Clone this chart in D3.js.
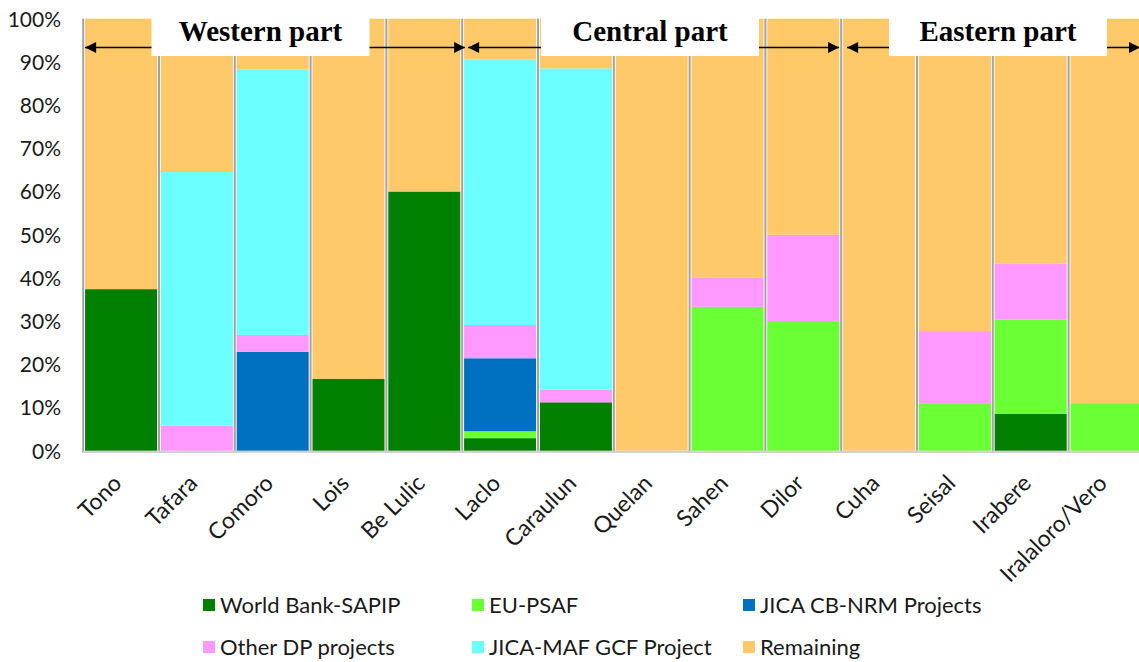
<!DOCTYPE html>
<html>
<head>
<meta charset="utf-8">
<script src="https://cdn.jsdelivr.net/npm/d3@7"></script>
<style>
  html, body { margin: 0; padding: 0; background: #ffffff; }
  svg { display: block; }
</style>
</head>
<body>
<svg id="chart" width="1139" height="662"></svg>
<script>
// ---- data ----
const categories = ["Tono", "Tafara", "Comoro", "Lois", "Be Lulic", "Laclo", "Caraulun",
  "Quelan", "Sahen", "Dilor", "Cuha", "Seisal", "Irabere", "Iralaloro/Vero"];
const seriesNames = ["World Bank-SAPIP", "EU-PSAF", "JICA CB-NRM Projects",
  "Other DP projects", "JICA-MAF GCF Project", "Remaining"];
const worldBank = [37.4, 0, 0, 16.6, 60, 2.9, 11.2, 0, 0, 0, 0, 0, 8.5, 0];
const euPsaf    = [0, 0, 0, 0, 0, 1.6, 0, 0, 33.3, 30, 0, 11, 21.8, 11];
const jicaCb    = [0, 0, 22.9, 0, 0, 16.9, 0, 0, 0, 0, 0, 0, 0, 0];
const otherDp   = [0, 5.8, 3.9, 0, 0, 7.7, 2.9, 0, 6.7, 20, 0, 16.7, 13, 0];
const jicaMaf   = [0, 58.7, 61.4, 0, 0, 61.4, 74.4, 0, 0, 0, 0, 0, 0, 0];
const remaining = [62.6, 35.5, 11.8, 83.4, 40, 9.5, 11.5, 100, 60, 50, 100, 72.3, 56.7, 89];
const yTicks = [0, 10, 20, 30, 40, 50, 60, 70, 80, 90, 100];
const regions = [
  { name: "Western part", from: "Tono", to: "Be Lulic" },
  { name: "Central part", from: "Laclo", to: "Dilor" },
  { name: "Eastern part", from: "Cuha", to: "Iralaloro/Vero" }
];
const colors = ["#007f00", "#6bff35", "#0070c0", "#ff99ff", "#6bffff", "#ffc969"];

// ---- build ----
const seriesValues = [worldBank, euPsaf, jicaCb, otherDp, jicaMaf, remaining];
const rows = categories.map((c, i) => {
  const r = { cat: c };
  seriesNames.forEach((s, k) => r[s] = seriesValues[k][i]);
  return r;
});
const stacked = d3.stack().keys(seriesNames)(rows);

const svg = d3.select("#chart");
const W = 1139, H = 662;
const plotTop = 18.7, plotBottom = 450.7;

const x = d3.scaleBand().domain(categories).range([83.2, 1144.4])
  .paddingInner(0.05).paddingOuter(0.025);
const y = d3.scaleLinear().domain([0, 100]).range([plotBottom, plotTop]);
const color = d3.scaleOrdinal().domain(seriesNames).range(colors);

const font = "Lato, 'Open Sans', sans-serif";

// separators / shadow lines
const gap = x.step() - x.bandwidth();
svg.append("g").selectAll("rect").data(categories).join("rect")
  .attr("x", d => x(d) - gap / 2 - 1)
  .attr("y", plotTop)
  .attr("width", 2)
  .attr("height", plotBottom - plotTop + 2)
  .attr("fill", "#a3a3a3");
svg.append("rect")
  .attr("x", x(categories[0]) - 2).attr("y", plotBottom)
  .attr("width", W).attr("height", 2.2)
  .attr("fill", "#d0d0d0");

// bars
svg.append("g").selectAll("g").data(stacked).join("g")
  .attr("fill", d => color(d.key))
  .selectAll("rect").data(d => d).join("rect")
  .attr("x", d => x(d.data.cat))
  .attr("y", d => y(d[1]))
  .attr("width", x.bandwidth())
  .attr("height", d => Math.max(0, y(d[0]) - y(d[1])));

// y axis
const yAxis = svg.append("g")
  .attr("transform", "translate(61,0)")
  .call(d3.axisLeft(y).tickValues(yTicks).tickFormat(d => d + "%").tickSize(0).tickPadding(0));
yAxis.select(".domain").remove();
yAxis.selectAll("text")
  .attr("font-family", font).attr("font-size", 21).attr("fill", "#1a1a1a")
  .attr("dy", "0.35em");

// x axis labels
const xAxis = svg.append("g")
  .attr("transform", `translate(0,${plotBottom})`)
  .call(d3.axisBottom(x).tickSize(0).tickPadding(0));
xAxis.select(".domain").remove();
xAxis.selectAll("text")
  .attr("font-family", font).attr("font-size", 23).attr("fill", "#1a1a1a")
  .attr("text-anchor", "end")
  .attr("dy", 0).attr("y", 0)
  .attr("transform", "translate(2,34) rotate(-45)");

// region annotations
const arrowY = 47.5;
const defs = svg.append("defs");
defs.append("marker").attr("id", "ah").attr("viewBox", "0 0 10 10")
  .attr("refX", 10).attr("refY", 5).attr("markerWidth", 13).attr("markerHeight", 11)
  .attr("markerUnits", "userSpaceOnUse").attr("orient", "auto-start-reverse")
  .append("path").attr("d", "M0,0 L10,5 L0,10 Z").attr("fill", "#000");

const regionBounds = regions.map((r, i) => {
  const x0 = x(r.from) + (i === 0 ? 0 : 4);
  const last = categories.indexOf(r.to);
  const x1 = last + 1 < categories.length ? x(categories[last + 1]) + (i === 0 ? 1 : -4) : W + 1;
  return { ...r, x0, x1 };
});
const ann = svg.append("g");
ann.selectAll("line").data(regionBounds).join("line")
  .attr("x1", d => d.x0).attr("x2", d => d.x1)
  .attr("y1", arrowY).attr("y2", arrowY)
  .attr("stroke", "#000").attr("stroke-width", 1.4)
  .attr("marker-start", "url(#ah)").attr("marker-end", "url(#ah)");
const boxW = 218;
const boxCenters = [260.5, 650, 998];
ann.selectAll("rect").data(regionBounds).join("rect")
  .attr("x", (d, i) => boxCenters[i] - boxW / 2)
  .attr("y", 18).attr("width", boxW).attr("height", 38)
  .attr("fill", "#fff");
ann.selectAll("text").data(regionBounds).join("text")
  .attr("x", (d, i) => boxCenters[i]).attr("y", 41)
  .attr("text-anchor", "middle")
  .attr("font-family", "'Liberation Serif', 'Times New Roman', serif")
  .attr("font-weight", "bold").attr("font-size", 29).attr("fill", "#000")
  .text(d => d.name);

// legend
const legendPos = [[203, 605], [472, 605], [743, 605], [203, 647], [472, 647], [743, 647]];
const leg = svg.append("g").selectAll("g").data(seriesNames).join("g")
  .attr("transform", (d, i) => `translate(${legendPos[i][0]},${legendPos[i][1]})`);
leg.append("rect").attr("x", 0).attr("y", -6).attr("width", 12).attr("height", 12)
  .attr("fill", d => color(d));
leg.append("text").attr("x", 17).attr("y", 0).attr("dy", "0.35em")
  .attr("font-family", font).attr("font-size", 22).attr("fill", "#1a1a1a")
  .text(d => d);
</script>
</body>
</html>
